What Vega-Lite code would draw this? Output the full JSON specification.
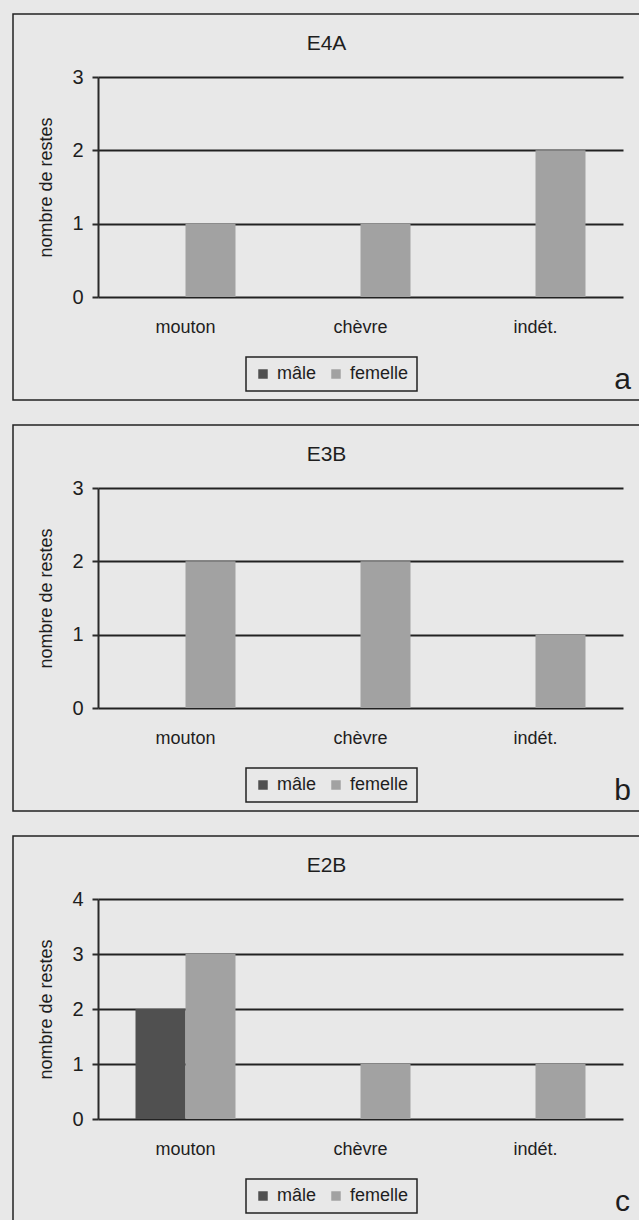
{
  "$schema": "https://vega.github.io/schema/vega-lite/v6.json",
  "padding": {"left": 12, "top": 13, "right": 0, "bottom": 0},
  "background": "#e8e8e8",
  "data": {
    "values": [
      {"site": "E4A", "espece": "mouton", "sexe": "femelle", "n": 1},
      {"site": "E4A", "espece": "chèvre", "sexe": "femelle", "n": 1},
      {"site": "E4A", "espece": "indét.", "sexe": "femelle", "n": 2},
      {"site": "E3B", "espece": "mouton", "sexe": "femelle", "n": 2},
      {"site": "E3B", "espece": "chèvre", "sexe": "femelle", "n": 2},
      {"site": "E3B", "espece": "indét.", "sexe": "femelle", "n": 1},
      {"site": "E2B", "espece": "mouton", "sexe": "mâle", "n": 2},
      {"site": "E2B", "espece": "mouton", "sexe": "femelle", "n": 3},
      {"site": "E2B", "espece": "chèvre", "sexe": "femelle", "n": 1},
      {"site": "E2B", "espece": "indét.", "sexe": "femelle", "n": 1}
    ]
  },
  "spacing": 23,
  "resolve": {
    "scale": {"x": "independent", "y": "independent", "color": "independent"},
    "legend": {"color": "independent"}
  },
  "vconcat": [
    {
      "title": {"text": "E4A"},
      "width": 627,
      "height": 386,
      "transform": [{"filter": "datum.site === 'E4A'"}],
      "encoding": {
        "x": {"field": "espece", "type": "nominal", "sort": ["mouton", "chèvre", "indét."],
              "scale": {"range": [85, 610], "paddingInner": 0.4286, "paddingOuter": 0.2143},
              "axis": {"title": "a"}},
        "xOffset": {"field": "sexe", "type": "nominal",
                    "scale": {"domain": ["mâle", "femelle"], "paddingInner": 0, "paddingOuter": 0}}
      },
      "layer": [
        {
          "mark": {"type": "bar"},
          "encoding": {
            "y": {"field": "n", "type": "quantitative",
                  "scale": {"domain": [0, 3], "range": [283, 63], "nice": false},
                  "axis": {"orient": "left", "values": [0, 1, 2, 3], "title": "nombre de restes",
                           "offset": -85, "grid": false, "titleX": -52, "titleY": 173,
                           "titleAngle": -90, "titleAlign": "center", "titleBaseline": "middle"}},
            "color": {"field": "sexe", "type": "nominal",
                      "scale": {"domain": ["mâle", "femelle"], "range": ["#505050", "#a2a2a2"]}}
          }
        },
        {
          "mark": {"type": "bar", "opacity": 0},
          "encoding": {
            "y": {"field": "n", "type": "quantitative",
                  "axis": {"orient": "left", "values": [0, 1, 2, 3], "title": null, "offset": 0,
                           "grid": true, "domain": false, "ticks": false, "labels": false}}
          }
        }
      ],
      "resolve": {"axis": {"y": "independent"}}
    },
    {
      "title": {"text": "E3B"},
      "width": 627,
      "height": 386,
      "transform": [{"filter": "datum.site === 'E3B'"}],
      "encoding": {
        "x": {"field": "espece", "type": "nominal", "sort": ["mouton", "chèvre", "indét."],
              "scale": {"range": [85, 610], "paddingInner": 0.4286, "paddingOuter": 0.2143},
              "axis": {"title": "b"}},
        "xOffset": {"field": "sexe", "type": "nominal",
                    "scale": {"domain": ["mâle", "femelle"], "paddingInner": 0, "paddingOuter": 0}}
      },
      "layer": [
        {
          "mark": {"type": "bar"},
          "encoding": {
            "y": {"field": "n", "type": "quantitative",
                  "scale": {"domain": [0, 3], "range": [283, 63], "nice": false},
                  "axis": {"orient": "left", "values": [0, 1, 2, 3], "title": "nombre de restes",
                           "offset": -85, "grid": false, "titleX": -52, "titleY": 173,
                           "titleAngle": -90, "titleAlign": "center", "titleBaseline": "middle"}},
            "color": {"field": "sexe", "type": "nominal",
                      "scale": {"domain": ["mâle", "femelle"], "range": ["#505050", "#a2a2a2"]}}
          }
        },
        {
          "mark": {"type": "bar", "opacity": 0},
          "encoding": {
            "y": {"field": "n", "type": "quantitative",
                  "axis": {"orient": "left", "values": [0, 1, 2, 3], "title": null, "offset": 0,
                           "grid": true, "domain": false, "ticks": false, "labels": false}}
          }
        }
      ],
      "resolve": {"axis": {"y": "independent"}}
    },
    {
      "title": {"text": "E2B"},
      "width": 627,
      "height": 386,
      "transform": [{"filter": "datum.site === 'E2B'"}],
      "encoding": {
        "x": {"field": "espece", "type": "nominal", "sort": ["mouton", "chèvre", "indét."],
              "scale": {"range": [85, 610], "paddingInner": 0.4286, "paddingOuter": 0.2143},
              "axis": {"title": "c"}},
        "xOffset": {"field": "sexe", "type": "nominal",
                    "scale": {"domain": ["mâle", "femelle"], "paddingInner": 0, "paddingOuter": 0}}
      },
      "layer": [
        {
          "mark": {"type": "bar"},
          "encoding": {
            "y": {"field": "n", "type": "quantitative",
                  "scale": {"domain": [0, 4], "range": [283, 63], "nice": false},
                  "axis": {"orient": "left", "values": [0, 1, 2, 3, 4], "title": "nombre de restes",
                           "offset": -85, "grid": false, "titleX": -52, "titleY": 173,
                           "titleAngle": -90, "titleAlign": "center", "titleBaseline": "middle"}},
            "color": {"field": "sexe", "type": "nominal",
                      "scale": {"domain": ["mâle", "femelle"], "range": ["#505050", "#a2a2a2"]}}
          }
        },
        {
          "mark": {"type": "bar", "opacity": 0},
          "encoding": {
            "y": {"field": "n", "type": "quantitative",
                  "axis": {"orient": "left", "values": [0, 1, 2, 3, 4], "title": null, "offset": 0,
                           "grid": true, "domain": false, "ticks": false, "labels": false}}
          }
        }
      ],
      "resolve": {"axis": {"y": "independent"}}
    }
  ],
  "config": {
    "font": "Liberation Sans, Arial, sans-serif",
    "view": {"stroke": "#222222", "strokeWidth": 1.5},
    "title": {
      "fontSize": 21, "fontWeight": "normal", "color": "#1e1e1e",
      "anchor": "middle", "frame": "group", "baseline": "alphabetic", "offset": -40
    },
    "axisX": {
      "orient": "bottom", "offset": -103, "domain": false, "ticks": false, "tickSize": 0,
      "grid": false, "labelAngle": 0, "labelPadding": 21, "labelFontSize": 18, "labelColor": "#1e1e1e",
      "titleFontSize": 30, "titleFontWeight": "normal", "titleColor": "#1e1e1e",
      "titleX": 609, "titleY": 91, "titleAlign": "center", "titleBaseline": "alphabetic", "titleAngle": 0
    },
    "axisY": {
      "domainColor": "#2a2a2a", "domainWidth": 2,
      "tickColor": "#2a2a2a", "tickWidth": 2, "tickSize": 6,
      "gridColor": "#222222", "gridWidth": 1.8, "gridOpacity": 1,
      "labelFontSize": 20, "labelPadding": 9, "labelColor": "#1e1e1e",
      "titleFontSize": 18, "titleFontWeight": "normal", "titleColor": "#1e1e1e"
    },
    "legend": {
      "orient": "none", "legendX": 233, "legendY": 343, "direction": "horizontal",
      "title": null, "strokeColor": "#222222", "strokeWidth": 1.5, "padding": 8,
      "labelFontSize": 18, "labelColor": "#1e1e1e", "labelOffset": 5, "columnPadding": 10,
      "symbolType": "square", "symbolSize": 90, "symbolStrokeWidth": 0, "symbolOpacity": 1
    }
  }
}
